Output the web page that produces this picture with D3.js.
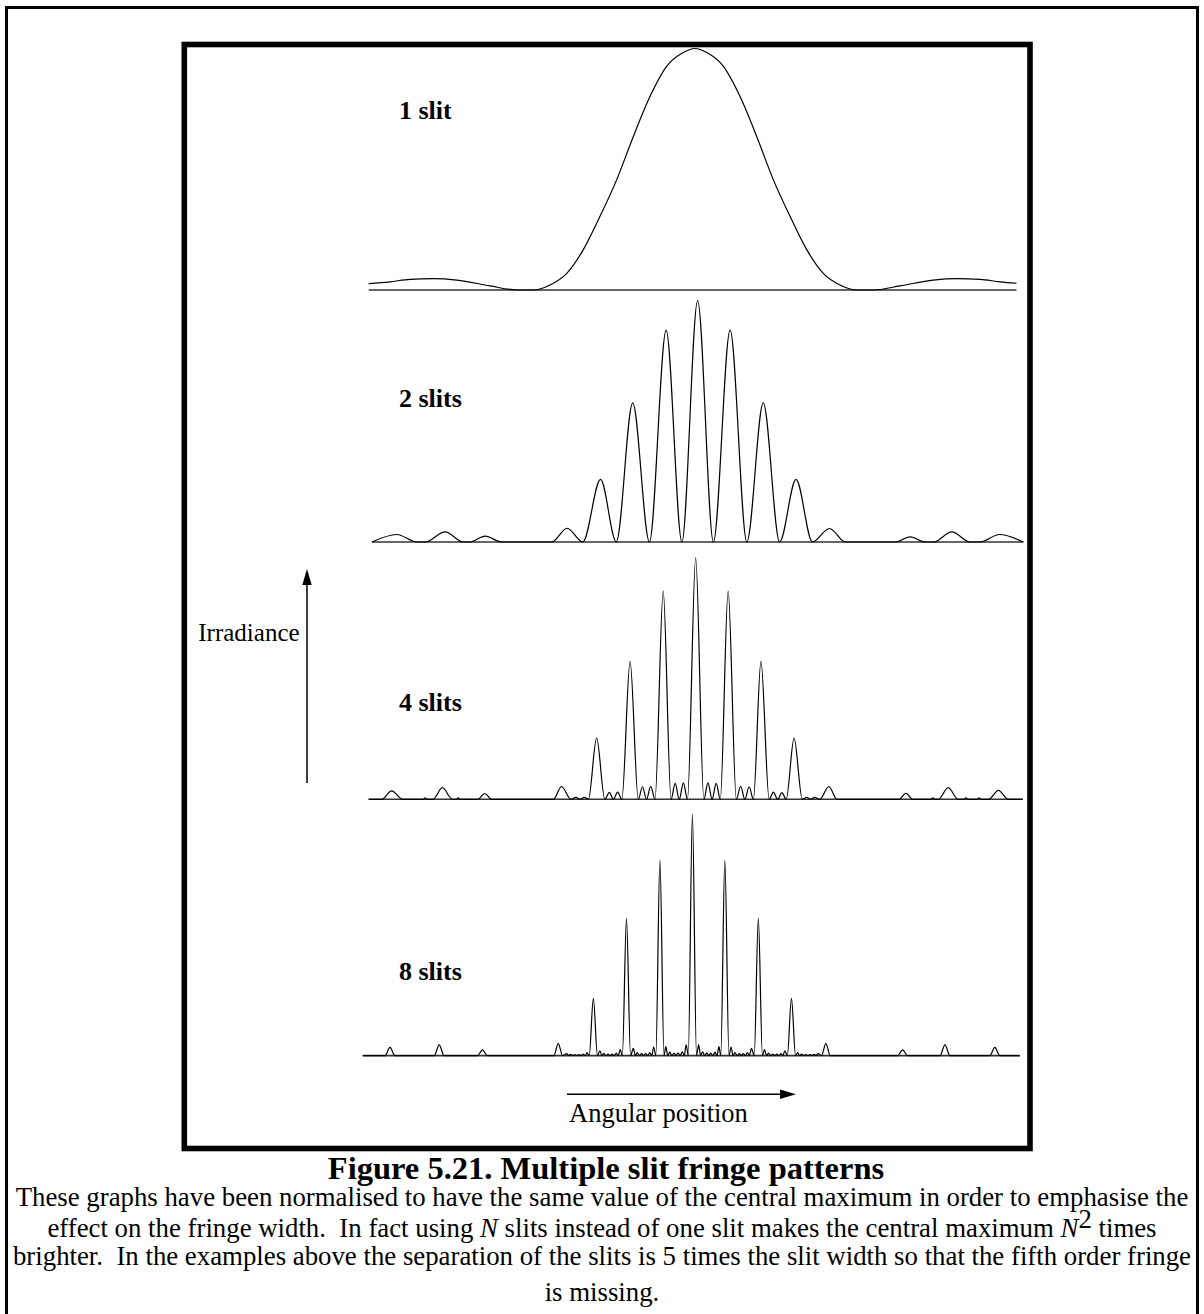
<!DOCTYPE html>
<html>
<head>
<meta charset="utf-8">
<script src="https://cdnjs.cloudflare.com/ajax/libs/d3/7.8.5/d3.min.js"></script>
<style>
    html, body { margin: 0; padding: 0; background: #fff; }
    svg { display: block; }
    text { font-family: "Liberation Serif", "Times New Roman", serif; fill: #000; white-space: pre; }
</style>
</head>
<body>
<svg id="chart" width="1204" height="1314"></svg>
<script>
// values: angular position in fringe orders, irradiance normalised to the central max
var slitCounts = [1, 2, 4, 8];
var panelLabels = ['1 slit', '2 slits', '4 slits', '8 slits'];
var centreShift = [-0.03, 0.05, -0.01, -0.11];

var oneSlit = [
    [-9.95,0.026],[-9.30,0.034],[-8.69,0.044],[-7.99,0.047],[-7.26,0.041],[-6.25,0.017],[-5.43,0],[-4.94,0],
    [-4.42,0.021],[-3.91,0.069],[-3.41,0.166],[-2.90,0.304],[-2.39,0.456],[-1.88,0.636],[-1.37,0.802],[-0.86,0.927],
    [-0.40,0.98],[0,1],[0.40,0.98],[0.86,0.927],[1.37,0.802],[1.88,0.636],[2.39,0.456],[2.90,0.304],[3.41,0.166],
    [3.91,0.069],[4.42,0.021],[4.94,0],[5.43,0],[6.25,0.017],[7.26,0.041],[7.99,0.047],[8.69,0.044],[9.30,0.034],[9.80,0.028]
];

var twoSlits = [
    [-9.93,0],[-9.17,0.031],[-8.56,0],[-8.31,0],[-7.70,0.042],[-7.14,0],[-6.94,0],[-6.48,0.024],[-5.97,0],
    [-4.45,0],[-3.98,0.057],[-3.50,0],[-2.96,0.259],[-2.48,0],[-1.98,0.576],[-1.47,0],[-0.96,0.877],[-0.48,0],
    [0,1],[0.48,0],[0.99,0.877],[1.50,0],[2.00,0.576],[2.50,0],[3.00,0.259],[3.50,0],[4.02,0.056],[4.50,0],
    [6.02,0],[6.48,0.021],[6.94,0],[7.19,0],[7.75,0.042],[8.31,0],[8.61,0],[9.20,0.031],[9.93,0]
];

var fourSlits = [
    [-9.97,0],[-9.57,0],[-9.27,0.035],[-8.93,0],[-8.31,0],[-8.25,0.006],[-8.19,0],[-8.01,0],[-7.72,0.048],[-7.42,0],
    [-7.30,0],[-7.24,0.006],[-7.18,0],[-6.64,0],[-6.43,0.024],[-6.22,0],
    [-4.34,0],[-4.09,0.053],[-3.80,0],[-3.65,0.008],[-3.52,0],[-3.39,0.008],[-3.27,0],[-3.02,0.253],[-2.77,0],
    [-2.63,0.029],[-2.51,0],[-2.38,0.030],[-2.25,0],[-2.00,0.571],[-1.75,0],[-1.62,0.052],[-1.50,0],[-1.37,0.054],
    [-1.24,0],[-0.99,0.862],[-0.75,0],[-0.625,0.066],[-0.5,0],[-0.375,0.068],[-0.25,0],[0,1],
    [0.25,0],[0.375,0.068],[0.5,0],[0.625,0.066],[0.75,0],[0.99,0.862],[1.24,0],[1.37,0.054],[1.50,0],[1.63,0.052],
    [1.76,0],[1.99,0.571],[2.24,0],[2.37,0.030],[2.50,0],[2.63,0.028],[2.76,0],[3.00,0.253],[3.25,0],[3.38,0.008],
    [3.50,0],[3.63,0.008],[3.78,0],[4.06,0.053],[4.31,0],
    [6.20,0],[6.41,0.025],[6.62,0],[7.17,0],[7.23,0.006],[7.29,0],[7.40,0],[7.70,0.048],[8.00,0],[8.18,0],
    [8.24,0.006],[8.30,0],[8.58,0],[8.64,0.006],[8.70,0],[8.93,0],[9.23,0.037],[9.53,0],[9.97,0]
];

var eightSlits = [
    [-10.05,0],[-9.37,0],[-9.22,0.034],[-9.07,0],[-7.87,0],[-7.72,0.044],[-7.57,0],[-6.55,0],[-6.40,0.024],[-6.25,0],
    [-4.22,0],[-4.09,0.051],[-3.96,0],
    [-3.83,0.008],[-3.77,0],[-3.71,0.005],[-3.645,0],[-3.58,0.004],[-3.52,0],[-3.46,0.004],[-3.395,0],[-3.33,0.006],[-3.27,0],[-3.21,0.012],[-3.145,0],
    [-3.02,0.237],
    [-2.895,0],[-2.82,0.020],[-2.76,0],[-2.70,0.008],[-2.635,0],[-2.57,0.006],[-2.51,0],[-2.45,0.006],[-2.385,0],[-2.32,0.010],[-2.26,0],[-2.20,0.025],[-2.135,0],
    [-2.01,0.568],
    [-1.885,0],[-1.80,0.030],[-1.74,0],[-1.68,0.012],[-1.615,0],[-1.55,0.008],[-1.49,0],[-1.43,0.008],[-1.365,0],[-1.30,0.012],[-1.24,0],[-1.18,0.035],[-1.115,0],
    [-0.99,0.81],
    [-0.865,0],[-0.81,0.037],[-0.75,0],[-0.69,0.014],[-0.625,0],[-0.56,0.010],[-0.5,0],[-0.44,0.011],[-0.375,0],[-0.31,0.016],[-0.25,0],[-0.19,0.044],[-0.125,0],
    [0,1],
    [0.125,0],[0.19,0.044],[0.25,0],[0.31,0.016],[0.375,0],[0.44,0.011],[0.5,0],[0.56,0.010],[0.625,0],[0.69,0.014],[0.75,0],[0.81,0.037],[0.865,0],
    [0.99,0.81],
    [1.115,0],[1.18,0.035],[1.24,0],[1.30,0.012],[1.365,0],[1.43,0.008],[1.49,0],[1.55,0.008],[1.615,0],[1.68,0.012],[1.74,0],[1.80,0.030],[1.885,0],
    [2.01,0.568],
    [2.135,0],[2.20,0.025],[2.26,0],[2.32,0.010],[2.385,0],[2.45,0.006],[2.51,0],[2.57,0.006],[2.635,0],[2.70,0.008],[2.76,0],[2.82,0.020],[2.895,0],
    [3.02,0.237],
    [3.145,0],[3.21,0.012],[3.27,0],[3.33,0.006],[3.395,0],[3.46,0.004],[3.52,0],[3.58,0.004],[3.645,0],[3.71,0.005],[3.77,0],[3.83,0.008],[3.94,0],
    [4.07,0.051],[4.20,0],
    [6.26,0],[6.41,0.024],[6.56,0],[7.55,0],[7.70,0.044],[7.85,0],[9.07,0],[9.22,0.034],[9.37,0],[9.98,0]
];

var xAxisLabel = 'Angular position';
var yAxisLabel = 'Irradiance';
var figureTitle = 'Figure 5.21. Multiple slit fringe patterns';
var captionLines = [
    [['These graphs have been normalised to have the same value of the central maximum in order to emphasise the']],
    [['effect on the fringe width.  In fact using '], ['N', 'i'], [' slits instead of one slit makes the central maximum '], ['N', 'i'], ['2', 'sup'], [' times']],
    [['brighter.  In the examples above the separation of the slits is 5 times the slit width so that the fifth order fringe']],
    [['is missing.']]
];

var series = [oneSlit, twoSlits, fourSlits, eightSlits];

// layout
var svg = d3.select('#chart');
var baselines = [290, 542, 799.3, 1055.6];
var panelHeight = 241.5;
var labelY = [119.3, 406.7, 710.7, 980];

var x = d3.scaleLinear().domain([-10, 10]).range([368, 1024]);

// outer frame and the heavy figure box
svg.append('rect')
    .attr('x', 6.5).attr('y', 7.5).attr('width', 1191).attr('height', 1330)
    .attr('fill', 'none').attr('stroke', '#000').attr('stroke-width', 3);
svg.append('rect')
    .attr('x', 184.3).attr('y', 44.5).attr('width', 845.7).attr('height', 1104)
    .attr('fill', 'none').attr('stroke', '#000').attr('stroke-width', 5.6);

series.forEach(function(data, i) {
    var y = d3.scaleLinear().domain([0, 1]).range([baselines[i], baselines[i] - panelHeight]);
    var shift = centreShift[i];
    var g = svg.append('g').attr('class', 'panel').attr('id', 'slits' + slitCounts[i]);

    var ext = d3.extent(data, function(d) { return d[0]; });
    g.append('line')
        .attr('x1', x(ext[0] + shift)).attr('x2', x(ext[1] + shift))
        .attr('y1', y(0)).attr('y2', y(0))
        .attr('stroke', '#333').attr('stroke-width', 1.6);

    var line = d3.line()
        .x(function(d) { return x(d[0] + shift); })
        .y(function(d) { return y(d[1]); })
        .curve(d3.curveMonotoneX);

    g.append('path')
        .datum(data)
        .attr('d', line)
        .attr('fill', 'none')
        .attr('stroke', '#000')
        .attr('stroke-width', 1.2);

    g.append('text')
        .attr('x', 399).attr('y', labelY[i])
        .style('font-size', '26px').style('font-weight', 'bold')
        .text(panelLabels[i]);
});

// irradiance arrow
svg.append('line')
    .attr('x1', 307).attr('x2', 307).attr('y1', 783).attr('y2', 580)
    .attr('stroke', '#000').attr('stroke-width', 1.5);
svg.append('path')
    .attr('d', 'M307,569 L302.3,585 L311.7,585 Z')
    .attr('fill', '#000');
svg.append('text')
    .attr('x', 198.3).attr('y', 640.7)
    .style('font-size', '25px')
    .text(yAxisLabel);

// angular position arrow
svg.append('line')
    .attr('x1', 567).attr('x2', 785).attr('y1', 1094.3).attr('y2', 1094.3)
    .attr('stroke', '#000').attr('stroke-width', 1.5);
svg.append('path')
    .attr('d', 'M796,1094.3 L780,1089.6 L780,1099 Z')
    .attr('fill', '#000');
svg.append('text')
    .attr('x', 569).attr('y', 1121.7)
    .style('font-size', '26.5px')
    .text(xAxisLabel);

// caption
svg.append('text')
    .attr('x', 606).attr('y', 1178.5)
    .attr('text-anchor', 'middle')
    .style('font-size', '32.5px').style('font-weight', 'bold')
    .text(figureTitle);

var captionY = [1205.5, 1237, 1265, 1301];
captionLines.forEach(function(parts, i) {
    var t = svg.append('text')
        .attr('x', 602).attr('y', captionY[i])
        .attr('text-anchor', 'middle')
        .style('font-size', '26.8px');
    var raised = false;
    parts.forEach(function(p) {
        var s = t.append('tspan').text(p[0]);
        if (p[1] === 'i') s.style('font-style', 'italic');
        if (p[1] === 'sup') { s.attr('dy', -9); raised = true; }
        else if (raised) { s.attr('dy', 9); raised = false; }
    });
});
</script>
</body>
</html>
